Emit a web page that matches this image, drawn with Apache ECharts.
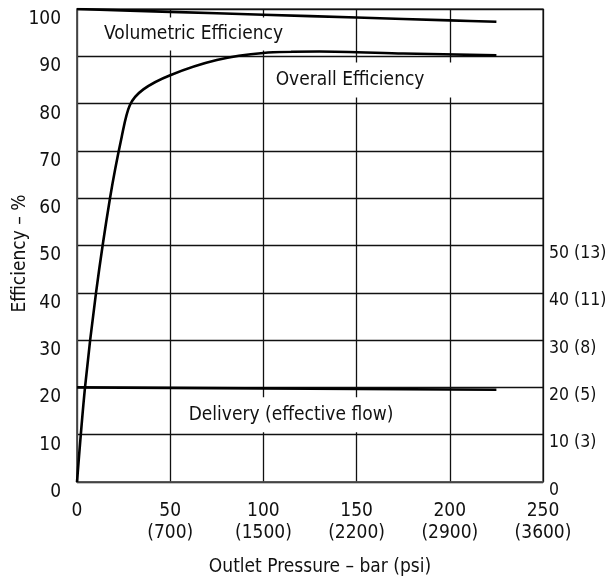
<!DOCTYPE html>
<html><head><meta charset="utf-8">
<script src="https://cdn.jsdelivr.net/npm/echarts@6/dist/echarts.min.js"></script>
<style>html,body{margin:0;padding:0;background:#fff}#c{width:608px;height:580px}</style>
</head><body><div id="c"></div>
<script>
// ---- data ----
const xTicks = [0, 50, 100, 150, 200, 250];
const psiLabels = ['', '(700)', '(1500)', '(2200)', '(2900)', '(3600)'];
const rightTicks = [0, 10, 20, 30, 40, 50];
const rightLabels = ['0', '10 (3)', '20 (5)', '30 (8)', '40 (11)', '50 (13)'];

const volPressure = [0, 50, 100, 150, 200, 225];
const volEff      = [100, 99.4, 98.8, 98.2, 97.6, 97.3];

const ovPressure = [0, 4.3, 10.2, 17.7, 24, 28.4, 35.6, 50, 75, 100, 130, 175, 225];
const ovEff      = [0, 20, 40, 60, 73, 79.7, 83, 86, 89.2, 90.7, 91, 90.6, 90.2];

const delPressure = [0, 225];
const delFlow     = [20, 19.5];

const FONT = '"Liberation Sans Narrow", "DejaVu Sans Condensed", "Noto Sans", sans-serif';
const FS = 19;
const pair = (xs, ys) => xs.map((x, i) => [x, ys[i]]);

const labelBox = (text, coord, pad) => ({
  coord: coord, symbolSize: 0,
  label: { show: true, position: 'inside', formatter: text, color: '#111', fontFamily: FONT, fontSize: FS,
           backgroundColor: '#fff', padding: pad }
});

const chart = echarts.init(document.getElementById('c'), null, { renderer: 'canvas' });
chart.setOption({
  animation: false,
  backgroundColor: '#fff',
  grid: { left: 77, right: 65, top: 9, bottom: 98, show: true, borderColor: '#555', borderWidth: 1.5,
          containLabel: false, outerBoundsMode: 'none' },
  xAxis: {
    type: 'value', min: 0, max: 250, interval: 50,
    name: 'Outlet Pressure \u2013 bar (psi)', nameLocation: 'middle', nameGap: 76, nameMoveOverlap: false,
    nameTextStyle: { fontFamily: FONT, fontSize: FS, color: '#111', padding: [0, 0, 0, 20] },
    axisLine: { show: true, lineStyle: { color: '#555', width: 1.5 } },
    axisTick: { show: false },
    splitLine: { show: true, lineStyle: { color: '#111', width: 1.3 } },
    axisLabel: {
      margin: 18, fontFamily: FONT, fontSize: FS, color: '#111', lineHeight: 22,
      formatter: v => { const i = xTicks.indexOf(v); return i > 0 ? v + '\n' + psiLabels[i] : String(v); }
    }
  },
  yAxis: [{
    type: 'value', min: 0, max: 100, interval: 10,
    name: 'Efficiency \u2013 %', nameLocation: 'middle', nameGap: 47, nameMoveOverlap: false,
    nameTextStyle: { fontFamily: FONT, fontSize: FS, color: '#111', padding: [0, 16, 0, 0] },
    axisLine: { show: true, lineStyle: { color: '#555', width: 1.5 } },
    axisTick: { show: false },
    splitLine: { show: true, lineStyle: { color: '#111', width: 1.3 } },
    axisLabel: { margin: 16, fontFamily: FONT, fontSize: FS, color: '#111', verticalAlign: 'top', lineHeight: 20 }
  }, {
    type: 'value', min: 0, max: 100, interval: 10, position: 'right',
    axisLine: { show: false }, axisTick: { show: false }, splitLine: { show: false },
    axisLabel: {
      margin: 6, fontFamily: FONT, fontSize: 17.5, color: '#111', verticalAlign: 'top', lineHeight: 16,
      formatter: v => { const i = rightTicks.indexOf(v); return i >= 0 ? rightLabels[i] : ''; }
    }
  }],
  series: [
    { type: 'line', data: pair(volPressure, volEff), smooth: 0.3, symbol: 'none',
      lineStyle: { color: '#000', width: 2.6 },
      markPoint: { data: [labelBox('Volumetric Efficiency', [62.5, 94.7], [7, 8, 7, 8])] } },
    { type: 'line', data: pair(ovPressure, ovEff), smooth: 0.3, symbol: 'none',
      lineStyle: { color: '#000', width: 2.6 },
      markPoint: { data: [labelBox('Overall Efficiency', [154, 85], [8, 36, 8, 8])] } },
    { type: 'line', data: pair(delPressure, delFlow), symbol: 'none',
      lineStyle: { color: '#000', width: 2.6 },
      markPoint: { data: [labelBox('Delivery (effective flow)', [114.8, 14.2], [8, 10, 8, 10])] } }
  ]
});
</script></body></html>
